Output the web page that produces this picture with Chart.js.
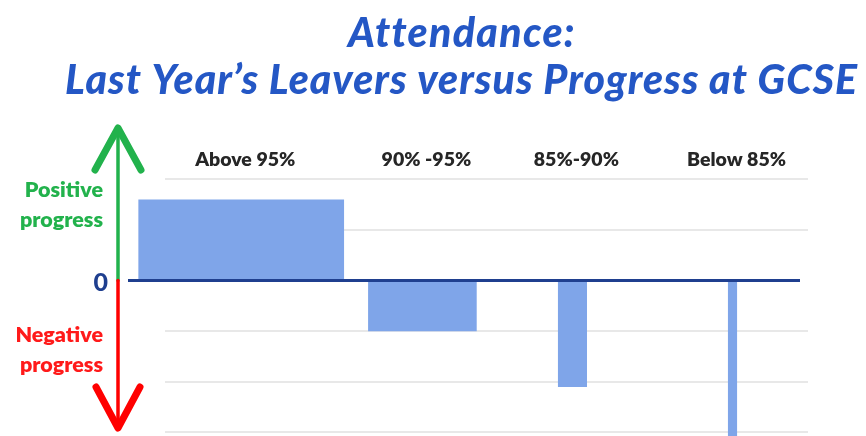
<!DOCTYPE html>
<html>
<head>
<meta charset="utf-8">
<script src="https://cdn.jsdelivr.net/npm/chart.js@4.4.1/dist/chart.umd.min.js"></script>
<style>
  html, body { margin: 0; padding: 0; background: #ffffff; }
  #wrap { width: 866px; height: 436px; position: relative; }
</style>
</head>
<body>
<div id="wrap"><canvas id="c" width="866" height="436"></canvas></div>
<script>
// ---- data ----
const titleLines = ['Attendance:', 'Last Year\u2019s Leavers versus Progress at GCSE'];
const categories = ['Above 95%', '90% -95%', '85%-90%', 'Below 85%'];
const progress = [1.6, -1.0, -2.1, -3.4];
const barStart = [1.5, 35.3, 63.2, 88.2];
const barEnd = [31.8, 51.3, 67.5, 89.6];
const yTicks = [-3, -2, -1, 0, 1, 2];
const positiveLabel = ['Positive', 'progress'];
const negativeLabel = ['Negative', 'progress'];
const zeroLabel = '0';

const FONT = 'Lato, "Open Sans", sans-serif';
const barColor = '#7fa5e9';

const datasets = categories.map((c, i) => ({
  type: 'line',
  label: c,
  data: [{ x: barStart[i], y: progress[i] }, { x: barEnd[i], y: progress[i] }],
  fill: 'origin',
  backgroundColor: barColor,
  borderColor: barColor,
  borderWidth: 0,
  pointRadius: 0,
  tension: 0
}));

function fitText(ctx, text, cx, baseline, targetWidth) {
  ctx.letterSpacing = '0px';
  const w = ctx.measureText(text).width;
  const sp = (targetWidth - w) / Math.max(1, text.length - 1);
  ctx.letterSpacing = sp.toFixed(2) + 'px';
  ctx.textAlign = 'left';
  ctx.fillText(text, cx - targetWidth / 2, baseline);
  ctx.letterSpacing = '0px';
}

const decor = {
  id: 'decor',
  beforeDatasetsDraw(chart) {
    const { ctx, chartArea, scales } = chart;
    const y = scales.y;
    ctx.save();
    ctx.strokeStyle = '#e8e8e8';
    ctx.lineWidth = 2;
    yTicks.forEach(t => {
      if (t === 0) return;
      const py = Math.round(y.getPixelForValue(t));
      ctx.beginPath();
      ctx.moveTo(chartArea.left + 37, py);
      ctx.lineTo(chartArea.right, py);
      ctx.stroke();
    });
    ctx.restore();
  },
  afterDatasetsDraw(chart) {
    const { ctx, chartArea, scales } = chart;
    const x = scales.x, y = scales.y;
    const y0 = y.getPixelForValue(0);
    ctx.save();
    // zero line
    ctx.strokeStyle = '#1f3f8f';
    ctx.lineWidth = 3;
    ctx.beginPath();
    ctx.moveTo(chartArea.left, y0);
    ctx.lineTo(chartArea.right - 8, y0);
    ctx.stroke();

    // title
    ctx.fillStyle = '#2457c5';
    ctx.textBaseline = 'alphabetic';
    ctx.font = 'italic 900 41px ' + FONT;
    fitText(ctx, titleLines[0], 460, 47, 224);
    fitText(ctx, titleLines[1], 461, 94, 792);

    // category labels
    ctx.textAlign = 'center';
    ctx.fillStyle = '#262626';
    ctx.font = '800 19.5px ' + FONT;
    ctx.textBaseline = 'middle';
    categories.forEach((c, i) => {
      const cx = (x.getPixelForValue(barStart[i]) + x.getPixelForValue(barEnd[i])) / 2 + 4;
      ctx.fillText(c, cx, 160);
    });

    // arrows
    const ax = chartArea.left - 10;
    ctx.lineCap = 'round';
    ctx.lineJoin = 'round';
    ctx.strokeStyle = '#22b24c';
    ctx.lineWidth = 3.5;
    ctx.beginPath();
    ctx.moveTo(ax, y0);
    ctx.lineTo(ax, 130);
    ctx.stroke();
    ctx.lineWidth = 7;
    ctx.beginPath();
    ctx.moveTo(ax - 23, 170);
    ctx.lineTo(ax, 128);
    ctx.lineTo(ax + 23, 170);
    ctx.stroke();

    ctx.strokeStyle = '#ff0000';
    ctx.lineWidth = 3.5;
    ctx.beginPath();
    ctx.moveTo(ax, y0);
    ctx.lineTo(ax, 426);
    ctx.stroke();
    ctx.lineWidth = 7;
    ctx.beginPath();
    ctx.moveTo(ax - 22, 387);
    ctx.lineTo(ax, 428);
    ctx.lineTo(ax + 22, 387);
    ctx.stroke();

    // side labels
    ctx.textAlign = 'right';
    ctx.textBaseline = 'middle';
    ctx.font = '800 21.5px ' + FONT;
    ctx.fillStyle = '#22b24c';
    ctx.fillText(positiveLabel[0], 103, 190);
    ctx.fillText(positiveLabel[1], 103, 220);
    ctx.fillStyle = '#ff1a1a';
    ctx.fillText(negativeLabel[0], 103, 335);
    ctx.fillText(negativeLabel[1], 103, 365);
    ctx.fillStyle = '#1f3f8f';
    ctx.font = '900 25px ' + FONT;
    ctx.fillText(zeroLabel, 108, y0 + 2);
    ctx.restore();
  }
};

new Chart(document.getElementById('c'), {
  type: 'line',
  data: { datasets },
  options: {
    responsive: false,
    animation: false,
    devicePixelRatio: 1,
    layout: { padding: { left: 128, right: 58, top: 154, bottom: 0 } },
    plugins: { legend: { display: false }, tooltip: { enabled: false }, title: { display: false } },
    scales: {
      x: { type: 'linear', min: 0, max: 100, display: false },
      y: { type: 'linear', min: -3.07, max: 2.5, display: false }
    }
  },
  plugins: [decor]
});
</script>
</body>
</html>
